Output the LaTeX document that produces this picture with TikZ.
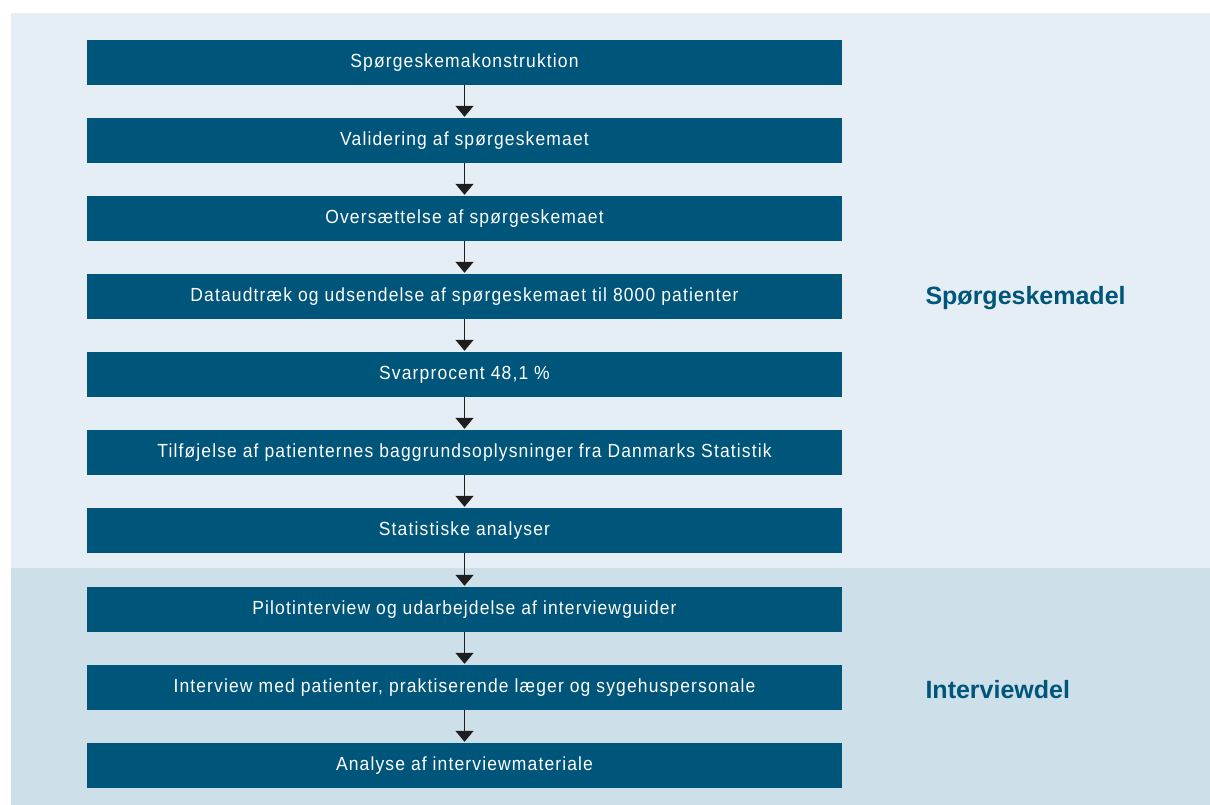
\documentclass[tikz,border=0pt]{standalone}
\usepackage{fontspec}
\setmainfont{Liberation Sans}[FakeStretch=0.92,LetterSpace=6]
\newfontfamily\headfont{Liberation Sans}
\usetikzlibrary{arrows.meta}

\definecolor{boxblue}{RGB}{0,85,122}
\definecolor{topbg}{RGB}{230,238,245}
\definecolor{lowbg}{RGB}{205,224,234}
\definecolor{arrowblack}{RGB}{30,30,30}

\tikzset{
	stepbox/.style={fill=boxblue, text=white, minimum width=755pt, minimum height=45pt,
		inner sep=0pt, font=\fontsize{19}{22}\selectfont},
	flow/.style={draw=arrowblack, line width=1.5pt, -{Triangle[width=18pt,length=11pt]}, shorten >=1pt},
	partlabel/.style={text=boxblue, anchor=west, font=\headfont\fontsize{25}{30}\selectfont\bfseries}
}

\begin{document}
\begin{tikzpicture}[x=1pt,y=-1pt]
	\useasboundingbox (0,0) rectangle (1210,805);
	% backgrounds
	\fill[topbg] (11,13) rectangle (1210,568);
	\fill[lowbg] (11,568) rectangle (1210,805);

	% spoergeskemadel
	\node[stepbox] (konstr) at (464.5,62.5) {Spørgeskemakonstruktion};
	\node[stepbox] (valid) at (464.5,140.5) {Validering af spørgeskemaet};
	\node[stepbox] (overs) at (464.5,218.5) {Oversættelse af spørgeskemaet};
	\node[stepbox] (udtraek) at (464.5,296.5) {Dataudtræk og udsendelse af spørgeskemaet til 8000 patienter};
	\node[stepbox] (svar) at (464.5,374.5) {Svarprocent 48,1 \%};
	\node[stepbox] (tilfoej) at (464.5,452.5) {Tilføjelse af patienternes baggrundsoplysninger fra Danmarks Statistik};
	\node[stepbox] (stat) at (464.5,530.5) {Statistiske analyser};

	% interviewdel
	\node[stepbox] (pilot) at (464.5,609.5) {Pilotinterview og udarbejdelse af interviewguider};
	\node[stepbox] (interv) at (464.5,687.5) {Interview med patienter, praktiserende læger og sygehuspersonale};
	\node[stepbox] (analyse) at (464.5,765.5) {Analyse af interviewmateriale};

	\foreach \a/\b in {konstr/valid, valid/overs, overs/udtraek, udtraek/svar, svar/tilfoej,
		tilfoej/stat, stat/pilot, pilot/interv, interv/analyse}
		\draw[flow] (\a.south) -- (\b.north);

	\node[partlabel] (spdel) at (922,298) {Spørgeskemadel};
	\node[partlabel] (intdel) at (922,690) {Interviewdel};
\end{tikzpicture}
\end{document}
